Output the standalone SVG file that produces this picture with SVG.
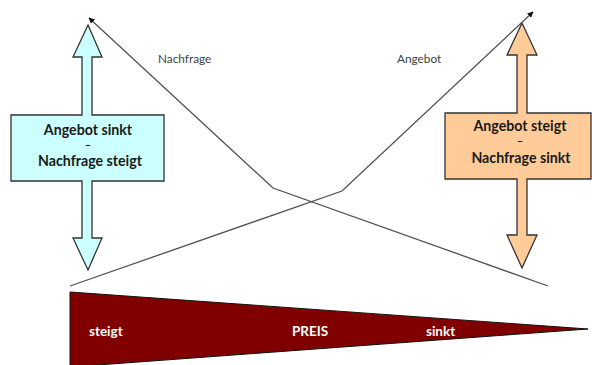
<svg xmlns="http://www.w3.org/2000/svg" width="592" height="365" viewBox="0 0 592 365">
<style>
.lbl{font-family:Lato,"Open Sans","Liberation Sans",sans-serif;font-size:11.8px;fill:#404040}
.box{font-family:Lato,"Open Sans","Liberation Sans",sans-serif;font-size:14.2px;font-weight:bold;fill:#1a1a1a;text-anchor:middle}
.dash{font-family:Lato,"Open Sans","Liberation Sans",sans-serif;font-size:11px;font-weight:bold;fill:#1a1a1a;text-anchor:middle}
.wt{font-family:Lato,"Open Sans","Liberation Sans",sans-serif;font-size:13.5px;font-weight:bold;fill:#ffffff}
.curve{fill:none;stroke:#505050;stroke-width:1.3}
.blk{stroke:#333333;stroke-width:1.3}
</style>
<defs>
<marker id="ah" viewBox="0 0 10 10" refX="9" refY="5" markerWidth="6" markerHeight="6" markerUnits="userSpaceOnUse" orient="auto">
<path d="M0,0 L10,5 L0,10 z" fill="#111111"/>
</marker>
</defs>
<rect width="592" height="365" fill="#ffffff"/>
<g id="preis">
<polygon points="70,292 588,329 70,367" fill="#800000" stroke="#111111" stroke-width="1"/>
<text class="wt" x="89" y="336">steigt</text>
<text class="wt" x="292" y="336">PREIS</text>
<text class="wt" x="426" y="336">sinkt</text>
</g>
<g id="left-node">
<polygon class="blk" points="88,25 102,57 92,57 92,115 164,115 164,181 92,181 92,238 102,238 88,270 73,238 82,238 82,181 11,181 11,115 82,115 82,57 73,57" fill="#ccffff"/>
<text class="box" x="88" y="135">Angebot sinkt</text>
<text class="dash" x="88" y="149">–</text>
<text class="box" x="90" y="166">Nachfrage steigt</text>
</g>
<g id="right-node">
<polygon class="blk" points="522,23 537,55 527,55 527,113 591,113 591,179 527,179 527,235 537,235 522,268 507,235 517,235 517,179 445,179 445,113 517,113 517,55 507,55" fill="#ffcc99"/>
<text class="box" x="520" y="131">Angebot steigt</text>
<text class="dash" x="520" y="145">–</text>
<text class="box" x="521" y="163">Nachfrage sinkt</text>
</g>
<g id="connectors">
<polyline class="curve" points="548,286 273,188 89,18" marker-end="url(#ah)"/>
<polyline class="curve" points="70,286 342,191 533,12" marker-end="url(#ah)"/>
<text class="lbl" x="158" y="63">Nachfrage</text>
<text class="lbl" x="397" y="63">Angebot</text>
</g>
</svg>
